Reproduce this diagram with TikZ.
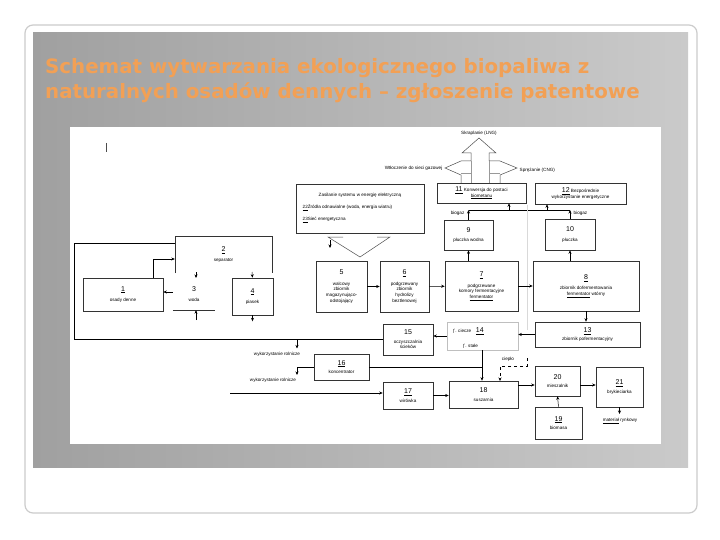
\documentclass[tikz,border=0pt]{standalone}
\usepackage{fontspec}
\setmainfont{Liberation Sans}
\newfontfamily\ttlfont{DejaVu Sans}
\usetikzlibrary{arrows.meta}
\definecolor{ttl}{HTML}{F2A055}
\definecolor{panelL}{HTML}{A0A0A0}
\definecolor{panelR}{HTML}{CACACA}
\newcommand\txs{\fontsize{4.6}{5.6}\selectfont}
\newcommand\txn{\fontsize{7}{8}\selectfont}
\begin{document}
\begin{tikzpicture}[x=1pt,y=-1pt,
  bx/.style={draw=black!80,line width=0.6pt,fill=white,inner sep=0pt,align=center,font=\txs},
  fbx/.style={draw=black!25,line width=0.5pt,fill=white,inner sep=0pt,align=center,font=\txs},
  nb/.style={inner sep=0pt,align=center,font=\txs},
  arr/.style={-{Stealth[length=3.5pt,width=3pt]},line width=0.5pt},
  ln/.style={line width=0.5pt},
  lbl/.style={font=\txs,inner sep=0.5pt},
  ttlst/.style={anchor=base west,font=\ttlfont\bfseries\fontsize{19.8}{22}\selectfont,text=ttl,inner sep=0pt}]
\useasboundingbox (0,0) rectangle (720,540);
\fill[white] (0,0) rectangle (720,540);
\draw[black!20,line width=1.2pt,rounded corners=8pt] (25,25) rectangle (697,513);
\shade[left color=panelL,right color=panelR] (33,33) rectangle (688,467);
\fill[white] (70,127) rectangle (661,444);
% title
\node[ttlst] (t1) at (45,74) {Schemat wytwarzania ekologicznego biopaliwa z};
\node[ttlst] (t2) at (45,99) {naturalnych osadów dennych – zgłoszenie patentowe};
% stray mark
\draw[ln,black!70] (106,143) -- (106,152);
% cross arrow
\draw[ln,black!70,fill=white] (461,183) -- (461,175) -- (445,168) -- (461,161) -- (471,161) -- (471,153) -- (462,153) -- (479,138) -- (496,153) -- (489,153) -- (489,161) -- (500,161) -- (517,168) -- (500,175) -- (500,183);
\draw[ln,black!40] (471,161) -- (471,183) (489,161) -- (489,183) (461,173) -- (471,173) (489,173) -- (500,173);
\node[lbl] (lng) at (479,133) {Skraplanie (LNG)};
\node[lbl,anchor=east] (gaz) at (443,168) {Wtłoczenie do sieci gazowej};
\node[lbl,anchor=west] (cng) at (519,170) {Sprężanie (CNG)};
% boxes
\node[bx,minimum width=89pt,minimum height=20pt] (n11) at (481.5,193) {{\txn\underline{11}} Konwersja do postaci\\\underline{biometanu}};
\node[bx,minimum width=91pt,minimum height=21pt] (n12) at (580.5,193.5) {{\txn\underline{12}} Bezpośrednie\\wykorzystanie energetyczne};
\node[bx,minimum width=128pt,minimum height=49pt] (zas) at (360,208.5) {};
\node[lbl] (zas1) at (360,195) {Zasilanie systemu w energię elektryczną};
\node[lbl,anchor=west] (zas2) at (302,208) {\underline{22}Źródła odnawialne (woda, energia wiatru)};
\node[lbl,anchor=west] (zas3) at (302,220) {\underline{23}Sieć energetyczna};
\node[bx,minimum width=49pt,minimum height=30pt] (n9) at (468.5,235) {{\txn 9}\\[4pt]płuczka wodna};
\node[bx,minimum width=50pt,minimum height=31pt] (n10) at (570,234.5) {{\txn 10}\\[4pt]płuczka};
\node[nb,minimum width=97pt,minimum height=37pt] (n2) at (223.5,254.5) {{\txn\underline{2}}\\[4pt]separator};
\draw[ln,black!80] (n2.south west) -- (n2.north west) -- (n2.north east) -- (n2.south east);
\node[bx,minimum width=80pt,minimum height=33pt] (n1) at (123,294.5) {{\txn\underline{1}}\\[5pt]osady denne};
\node[nb,minimum width=42pt,minimum height=32pt] (n3) at (194,294) {{\txn 3}\\[5pt]woda};
\draw[ln,black!80] (n3.south west) -- (n3.south east);
\node[bx,minimum width=41pt,minimum height=37pt] (n4) at (252.5,296.5) {{\txn\underline{4}}\\[5pt]piasek};
\node[bx,minimum width=51pt,minimum height=51pt] (n5) at (341.5,286.5) {{\txn 5}\\[5pt]walcowy\\zbiornik\\magazynująco-\\odstojający};
\node[bx,minimum width=49pt,minimum height=51pt] (n6) at (404.5,286.5) {{\txn\underline{6}}\\[5pt]podgrzewany\\zbiornik\\hydrolizy\\beztlenowej};
\node[bx,minimum width=73pt,minimum height=50pt] (n7) at (481.5,286) {{\txn\underline{7}}\\[5pt]podgrzewane\\komory fermentacyjne\\\underline{fermentator}};
\node[bx,minimum width=106pt,minimum height=50pt] (n8) at (586,286) {{\txn\underline{8}}\\[5pt]zbiornik dofermentowania\\\underline{fermentator} wtórny};
\node[bx,minimum width=105pt,minimum height=25pt] (n13) at (587.5,334.5) {{\txn\underline{13}}\\[2pt]zbiornik pofermentacyjny};
\node[fbx,minimum width=71pt,minimum height=28pt] (n14) at (482.5,336) {};
\node[lbl,anchor=west] (n14a) at (452,331) {ƒ. ciecze\quad{\txn\underline{14}}};
\node[lbl,anchor=west] (n14b) at (462,346) {ƒ. stałe};
\node[bx,minimum width=50pt,minimum height=31pt] (n15) at (408,339.5) {{\txn 15}\\[3pt]oczyszczalnia\\ścieków};
\node[bx,minimum width=55pt,minimum height=26pt] (n16) at (341.5,367) {{\txn\underline{16}}\\[3pt]koncentrator};
\node[bx,minimum width=50pt,minimum height=27pt] (n17) at (408,395.5) {{\txn\underline{17}}\\[3pt]wirówka};
\node[bx,minimum width=69pt,minimum height=27pt] (n18) at (483.5,394.5) {{\txn 18}\\[3pt]suszarnia};
\node[bx,minimum width=45pt,minimum height=30pt] (n20) at (557.5,381) {{\txn 20}\\[3pt]mieszalnik};
\node[bx,minimum width=47pt,minimum height=40pt] (n21) at (619.5,387) {{\txn\underline{21}}\\[3pt]brykieciarka};
\node[bx,minimum width=47pt,minimum height=32pt] (n19) at (558.5,423) {{\txn\underline{19}}\\[3pt]biomasa};
% V shape under supply box
\draw[ln,black!70] (343,237) -- (328,237) -- (360,257) -- (390,237) -- (377,237);
\coordinate (zd) at (330,240);
\draw[arr] (zd) -- ++(0,8);
% biogas bus
\coordinate (bus9) at (468.5,210);
\coordinate (bus10) at (570,210);
\draw[ln] (bus9) -- (bus10);
\draw[arr] (n9.north) -- (bus9);
\draw[arr] (n10.north) -- (bus10);
\coordinate (b11) at (509,210);
\coordinate (b12) at (547,210);
\draw[arr] (b11) -- (b11 |- n11.south);
\draw[arr] (b12) -- (b12 |- n12.south);
\node[lbl,anchor=east] (bg1) at (465,213) {biogaz};
\node[lbl,anchor=west] (bg2) at (573,213) {biogaz};
% faint separator
\draw[black!15,line width=0.5pt] (527,205) -- (527,330);
% main line
\draw[arr] (n7.north -| n9) -- (n9.south);
\draw[arr] (n8.north -| n10) -- (n10.south);
\draw[arr] (n5) -- (n6);
\draw[arr] (n6) -- (n7);
\draw[arr] (n7) -- (n8);
\draw[arr] (n8.south) -- (n8.south |- n13.north);
\draw[arr] (n13.west) -- (n13.west -| n14.east);
\draw[arr] (n14.west) -- (n14.west -| n15.east);
% loop back
\coordinate (lp) at (74,243);
\draw[ln] (n15.west) -| (lp) -- (lp -| n2.west);
\coordinate (ag1) at (297,339.5);
\draw[arr] (ag1) -- ++(0,9);
\node[lbl] (ag1t) at (277,354) {wykorzystanie rolnicze};
\coordinate (ag2) at (297,367);
\draw[ln] (n16.west) -- (ag2);
\draw[arr] (ag2) -- ++(0,8);
\node[lbl] (ag2t) at (273,380) {wykorzystanie rolnicze};
\coordinate (k16) at (482,367);
\draw[ln] (n16.east) -- (k16);
\coordinate (w17) at (230,393);
\draw[arr] (w17) -- (w17 -| n17.west);
\draw[arr] (n17.east) -- (n17.east -| n18.west);
\draw[arr] (n14.south -| 482,0) -- (n18.north -| 482,0);
\coordinate (cp) at (527,358);
\draw[arr,dashed] (cp) -- (527,366) -- (500,366) -- (500 ,381);
\node[lbl] (cpt) at (508,359) {ciepło};
\draw[arr] (n18.east |- 0,385) -- (n20.west |- 0,385);
\draw[arr] (n20.east |- 0,385) -- (n21.west |- 0,385);
\draw[arr] (n19.north) -- (n20.south);
\coordinate (mr) at (619.5,414);
\draw[arr] (n21.south) -- (mr);
\node[lbl] (mrt) at (620,421) {\underline{materiał} rynkowy};
% left part
\coordinate (o1) at (153,259);
\draw[arr] (n1.north -| o1) -- (o1) -- (o1 -| n2.west);
\draw[arr] (n3.west |- 0,292) -- (n1.east |- 0,292);
\draw[arr] (196,272) -- (196,278);
\draw[arr] (252,272) -- (n4.north);
\draw[arr] (n4.south) -- ++(0,6);
\draw[arr] (196,320) -- (n3.south -| 196,0);
\end{tikzpicture}
\end{document}
